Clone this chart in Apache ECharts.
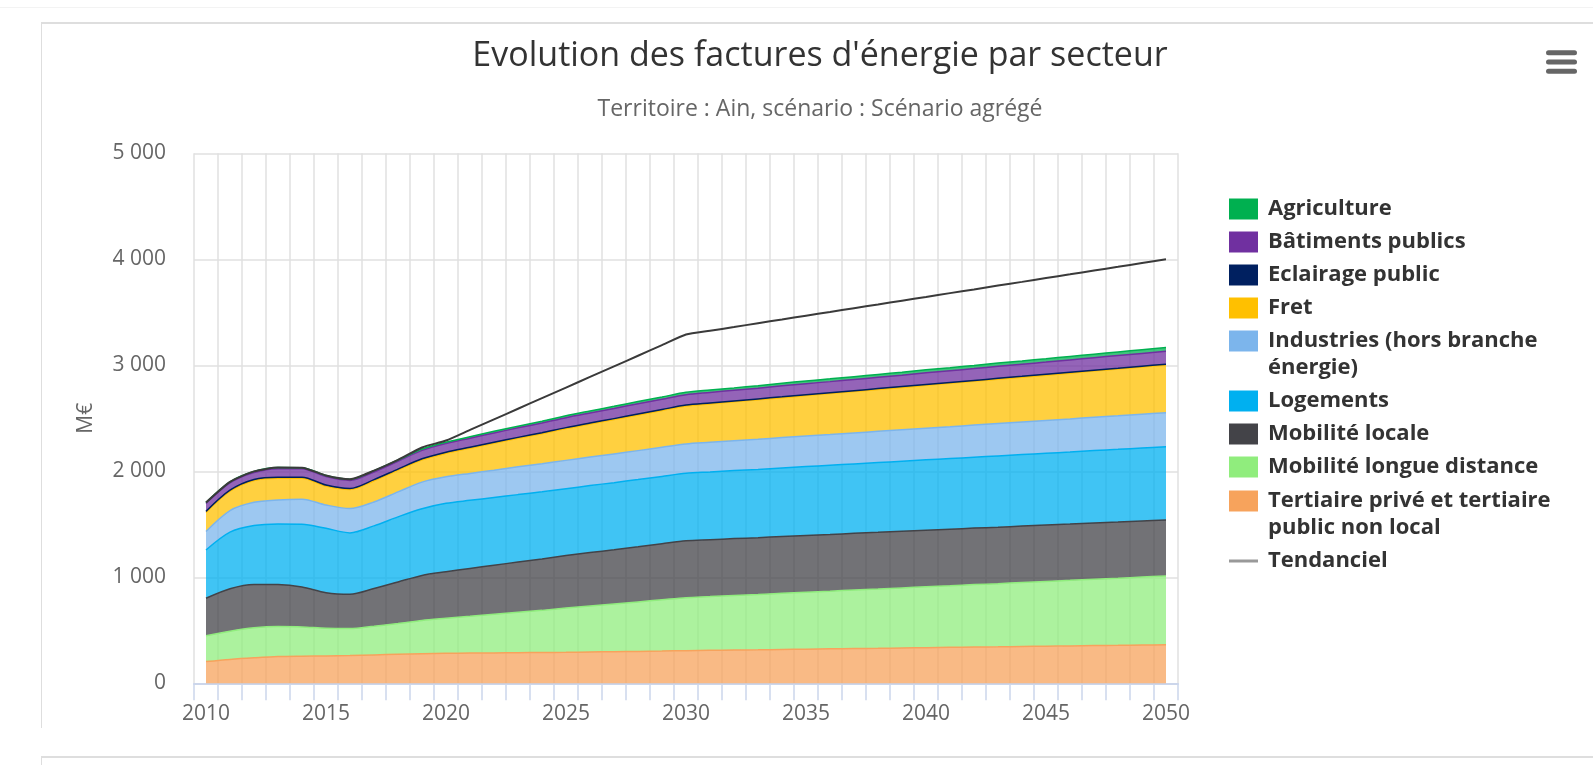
<!DOCTYPE html>
<html>
<head>
<meta charset="utf-8">
<title>Evolution des factures d'énergie par secteur</title>
<script src="https://cdn.jsdelivr.net/npm/echarts@6/dist/echarts.min.js"></script>
<style>
  html, body { margin: 0; padding: 0; background: #fff; }
  #page { position: relative; width: 1593px; height: 765px; overflow: hidden; }
  #main { position: absolute; left: 0; top: 0; width: 1593px; height: 765px; }
  .frame { position: absolute; pointer-events: none; box-sizing: border-box; }
</style>
</head>
<body>
<div id="page">
  <div class="frame" style="left:0;top:7px;width:1593px;height:1px;background:#f3f3f3"></div>
  <div class="frame" style="left:41px;top:22px;width:1552px;height:706px;border-top:2px solid #dedede;border-left:1px solid #dedede"></div>
  <div class="frame" style="left:41px;top:756px;width:1552px;height:20px;border-top:2px solid #dedede;border-left:1px solid #dedede"></div>
  <div id="main"></div>
</div>
<script>
// années (axe X)
const years = ['2010','2011','2012','2013','2014','2015','2016','2017','2018','2019',
  '2020','2021','2022','2023','2024','2025','2026','2027','2028','2029',
  '2030','2031','2032','2033','2034','2035','2036','2037','2038','2039',
  '2040','2041','2042','2043','2044','2045','2046','2047','2048','2049','2050'];

// factures par secteur, M€
const tertiaire = [205, 225, 240, 252, 256, 258, 262, 268, 274, 279, 283, 285, 287, 289, 290, 292, 295, 298, 301, 304, 308,
  311, 314, 316, 319, 322, 325, 328, 330, 333, 336, 339, 342, 344, 347, 350, 353, 356, 358, 361, 364];
const mobiliteLongue = [244, 267, 283, 283, 276, 261, 255, 271, 290, 314, 330, 347, 364, 381, 398, 418, 434, 450, 467, 484, 500,
  507, 515, 522, 530, 537, 544, 552, 559, 567, 574, 581, 589, 596, 604, 611, 618, 626, 633, 641, 648];
const mobiliteLocale = [353, 400, 409, 396, 377, 336, 323, 355, 392, 425, 440, 452, 463, 474, 485, 495, 504, 512, 520, 529, 537,
  537, 536, 536, 536, 536, 535, 535, 535, 534, 534, 534, 533, 533, 532, 532, 531, 531, 530, 530, 529];
const logements = [456, 534, 556, 572, 592, 607, 579, 591, 614, 629, 645, 642, 639, 636, 633, 631, 632, 633, 634, 635, 636,
  639, 642, 644, 647, 650, 653, 655, 658, 661, 664, 666, 669, 672, 675, 677, 680, 683, 686, 688, 691];
const industries = [174, 204, 220, 227, 236, 220, 229, 226, 236, 251, 250, 254, 258, 262, 265, 267, 269, 271, 273, 275, 277,
  279, 281, 284, 286, 288, 290, 292, 295, 297, 299, 301, 303, 306, 308, 310, 312, 314, 317, 319, 321];
const fret = [180, 182, 205, 205, 198, 178, 180, 200, 205, 210, 222, 238, 254, 269, 284, 300, 312, 324, 336, 347, 358,
  363, 367, 372, 376, 381, 386, 390, 395, 399, 404, 409, 413, 418, 422, 427, 432, 436, 441, 445, 450];
const eclairage = [10, 10, 10, 10, 10, 10, 10, 10, 10, 10, 10, 9, 9, 9, 9, 9, 9, 9, 9, 9, 9,
  9, 9, 9, 9, 9, 8, 8, 8, 8, 8, 8, 8, 8, 8, 8, 8, 8, 8, 8, 8];
const batiments = [74, 69, 66, 80, 78, 80, 76, 73, 74, 79, 82, 85, 88, 90, 92, 94, 95, 96, 97, 97, 98,
  99, 100, 101, 103, 104, 105, 106, 107, 108, 110, 111, 112, 113, 114, 115, 117, 118, 119, 120, 121];
const agriculture = [10, 10, 10, 11, 11, 11, 11, 12, 12, 13, 13, 14, 15, 16, 17, 18, 19, 20, 21, 21, 22,
  23, 23, 24, 25, 25, 26, 27, 27, 28, 29, 29, 30, 31, 31, 32, 33, 33, 34, 35, 36];
const tendanciel = [1706, 1901, 1999, 2036, 2034, 1961, 1925, 2006, 2107, 2225, 2290, 2390, 2490, 2590, 2690, 2790, 2890, 2990, 3090, 3190, 3290,
  3326, 3361, 3397, 3432, 3468, 3503, 3539, 3574, 3610, 3645, 3681, 3716, 3752, 3787, 3823, 3858, 3894, 3929, 3965, 4000];

const font = "'Open Sans', 'Noto Sans', sans-serif";

const chart = echarts.init(document.getElementById('main'));

// noms sur deux lignes dans la légende (ligne vide en tête pour caler le carré sur la 1re ligne)
const legendLabels = {
  'Industries (hors branche énergie)': '\nIndustries (hors branche\nénergie)',
  'Tertiaire privé et tertiaire public non local': '\nTertiaire privé et tertiaire\npublic non local'
};

const legendBase = {
  orient: 'vertical',
  left: 1229,
  padding: 0,
  itemGap: 6,
  itemWidth: 29,
  itemHeight: 21,
  selectedMode: false,
  textStyle: { fontFamily: font, fontSize: 22, fontWeight: 'bold', color: '#333', lineHeight: 27, padding: [0, 0, 0, 5] },
  formatter: (name) => legendLabels[name] || name
};

const band = (name, data, color) => ({
  name,
  type: 'line',
  stack: 'total',
  data,
  smooth: 0.3,
  symbol: 'none',
  lineStyle: { width: 1.5, color },
  itemStyle: { color },
  areaStyle: { color, opacity: 0.75 },
  emphasis: { disabled: true }
});

const option = {
  animation: false,
  textStyle: { fontFamily: font },
  title: [
    { text: "Evolution des factures d'énergie par secteur", left: 820, top: 39, textAlign: 'center', padding: 0,
      textStyle: { fontFamily: font, fontSize: 34, fontWeight: 'normal', color: '#333' } },
    { text: 'Territoire : Ain, scénario : Scénario agrégé', left: 820, top: 98, textAlign: 'center', padding: 0,
      textStyle: { fontFamily: font, fontSize: 23, fontWeight: 'normal', color: '#666' } }
  ],
  legend: [
    Object.assign({}, legendBase, { top: 195.5, data: [
      { name: 'Agriculture', icon: 'rect' },
      { name: 'Bâtiments publics', icon: 'rect' },
      { name: 'Eclairage public', icon: 'rect' },
      { name: 'Fret', icon: 'rect' }
    ] }),
    Object.assign({}, legendBase, { top: 300.5, data: [
      { name: 'Industries (hors branche énergie)', icon: 'rect' },
      { name: 'Logements', icon: 'rect' },
      { name: 'Mobilité locale', icon: 'rect' },
      { name: 'Mobilité longue distance', icon: 'rect' }
    ] }),
    Object.assign({}, legendBase, { top: 460.5, data: [
      { name: 'Tertiaire privé et tertiaire public non local', icon: 'rect' },
      { name: 'Tendanciel', icon: 'path://M0,0H29V3H0Z', itemStyle: { color: '#999' } }
    ] })
  ],
  grid: { left: 194, right: 415, top: 153.3, bottom: 81.7, containLabel: false, outerBoundsMode: 'none' },
  xAxis: {
    type: 'category',
    data: years,
    boundaryGap: true,
    axisLine: { lineStyle: { color: '#ccd6eb', width: 2 } },
    axisTick: { show: true, interval: 0, length: 17, lineStyle: { color: '#ccd6eb', width: 1.5 } },
    axisLabel: { interval: 4, margin: 20, color: '#666', fontSize: 21, fontFamily: font },
    splitLine: { show: true, interval: 0, lineStyle: { color: '#e0e0e0', width: 1.5 } }
  },
  yAxis: {
    type: 'value',
    min: 0,
    max: 5000,
    interval: 1000,
    name: 'M€',
    nameLocation: 'middle',
    nameGap: 97,
    nameTextStyle: { color: '#666', fontSize: 21, fontFamily: font },
    axisLine: { show: false },
    axisTick: { show: false },
    axisLabel: {
      margin: 28, color: '#666', fontSize: 21, fontFamily: font,
      formatter: (v) => String(v).replace(/\B(?=(\d{3})+(?!\d))/g, ' ')
    },
    splitLine: { lineStyle: { color: '#e0e0e0', width: 1.5 } }
  },
  series: [
    band('Tertiaire privé et tertiaire public non local', tertiaire, '#f7a35c'),
    band('Mobilité longue distance', mobiliteLongue, '#90ed7d'),
    band('Mobilité locale', mobiliteLocale, '#434348'),
    band('Logements', logements, '#00b0f0'),
    band('Industries (hors branche énergie)', industries, '#7cb5ec'),
    band('Fret', fret, '#ffc000'),
    band('Eclairage public', eclairage, '#002060'),
    band('Bâtiments publics', batiments, '#7030a0'),
    band('Agriculture', agriculture, '#00b050'),
    {
      name: 'Tendanciel',
      type: 'line',
      data: tendanciel,
      smooth: 0.2,
      symbol: 'none',
      lineStyle: { width: 2, color: '#3a3a3a' },
      itemStyle: { color: '#3a3a3a' },
      emphasis: { disabled: true },
      z: 3
    }
  ],
  // bouton menu (hamburger)
  graphic: [0, 1, 2].map((i) => ({
    type: 'rect',
    shape: { x: 1546, y: 50.2 + i * 9.3, width: 31, height: 5, r: 2.5 },
    style: { fill: '#666' },
    silent: true
  }))
};

chart.setOption(option);
</script>
</body>
</html>
